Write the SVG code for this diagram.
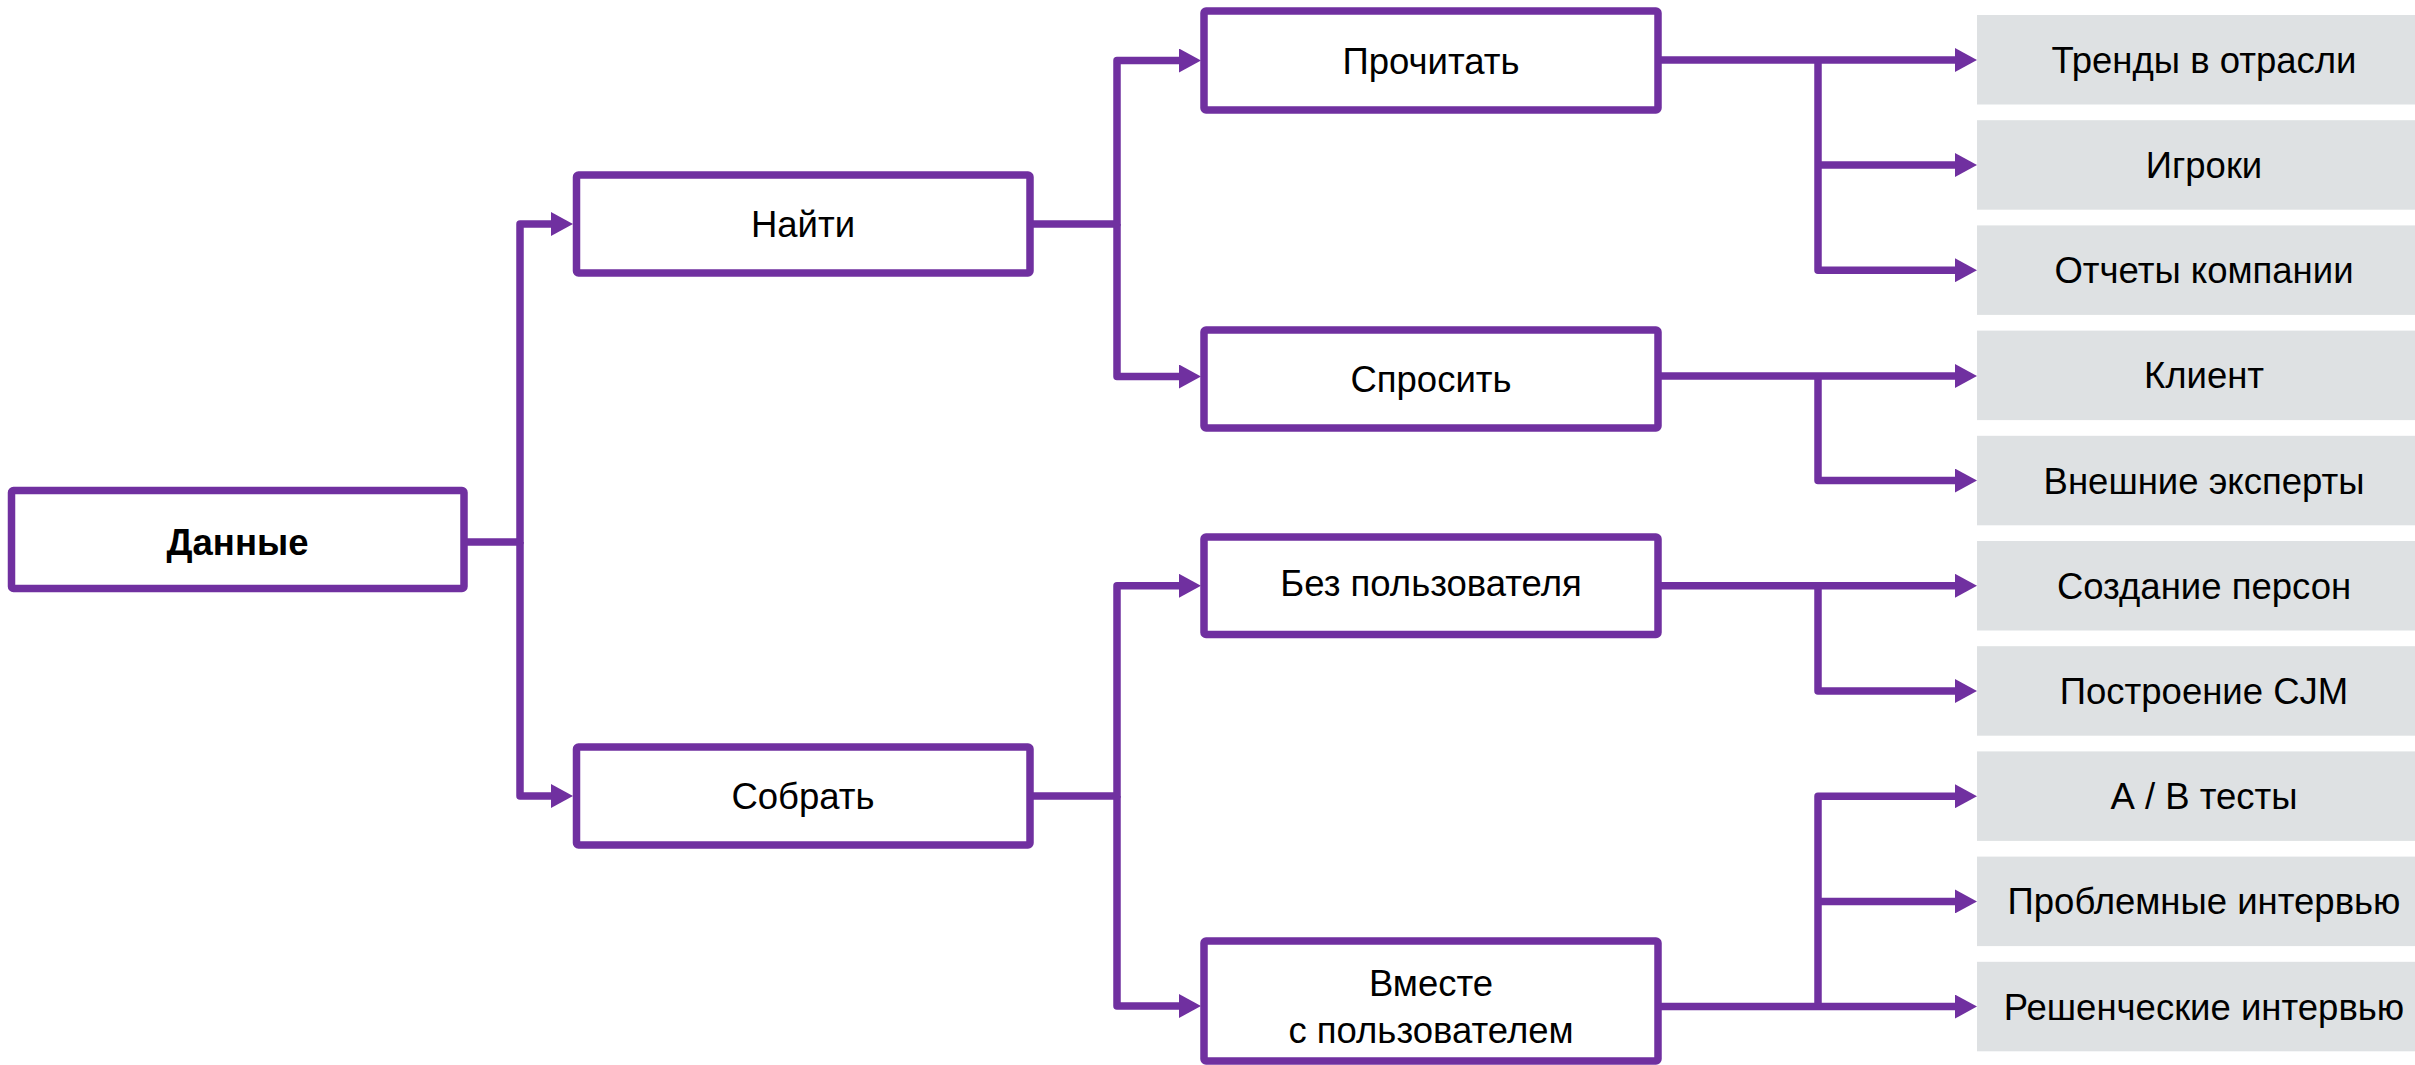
<svg xmlns="http://www.w3.org/2000/svg" width="2415" height="1065" viewBox="0 0 2415 1065">
<defs>
<style>
.box{fill:#ffffff;stroke:#7030A0;stroke-width:7.5;stroke-linejoin:round}
.leaf{fill:#DEE1E3}
.t{font-family:"Liberation Sans",Arial,sans-serif;font-size:36.5px;fill:#000;text-anchor:middle}
.b{font-weight:bold}
.c{fill:none;stroke:#7030A0;stroke-width:7.5;stroke-linejoin:round;marker-end:url(#ah)}
</style>
<marker id="ah" markerUnits="userSpaceOnUse" markerWidth="22" markerHeight="24" viewBox="0 0 22 24" refX="0" refY="12" orient="auto">
<path d="M0,0 L22,12 L0,24 z" fill="#7030A0"/>
</marker>
</defs>
<rect width="2415" height="1065" fill="#ffffff"/>
<g id="connectors">
<path class="c" d="M464,542 H520 V224 H551"/>
<path class="c" d="M520,542 V796 H551"/>
<path class="c" d="M1030,224 H1117 V60.5 H1179"/>
<path class="c" d="M1117,224 V376.5 H1179"/>
<path class="c" d="M1030,796 H1117 V585.8 H1179"/>
<path class="c" d="M1117,796 V1006 H1179"/>
<path class="c" d="M1658,60 H1955"/>
<path class="c" d="M1818,60 V270.2 H1955"/>
<path class="c" d="M1818,165 H1955"/>
<path class="c" d="M1658,376 H1955"/>
<path class="c" d="M1818,376 V480.6 H1955"/>
<path class="c" d="M1658,585.8 H1955"/>
<path class="c" d="M1818,585.8 V691 H1955"/>
<path class="c" d="M1658,1006.6 H1955"/>
<path class="c" d="M1818,1006.6 V796.2 H1955"/>
<path class="c" d="M1818,901.4 H1955"/>
</g>
<g id="n-dannye"><rect class="box" x="11.5" y="490.5" width="452.5" height="98" rx="2"/><text class="t b" x="237.5" y="555">Данные</text></g>
<g id="n-nayti"><rect class="box" x="576.5" y="175" width="453.5" height="98" rx="2"/><text class="t" x="803" y="237">Найти</text></g>
<g id="n-sobrat"><rect class="box" x="576.5" y="747" width="453.5" height="98" rx="2"/><text class="t" x="803" y="809">Собрать</text></g>
<g id="n-prochitat"><rect class="box" x="1204" y="11" width="454" height="99" rx="2"/><text class="t" x="1431" y="73.5">Прочитать</text></g>
<g id="n-sprosit"><rect class="box" x="1204" y="330" width="454" height="98" rx="2"/><text class="t" x="1431" y="391.5">Спросить</text></g>
<g id="n-bez"><rect class="box" x="1204" y="537" width="454" height="97.5" rx="2"/><text class="t" x="1431" y="595.5">Без пользователя</text></g>
<g id="n-vmeste"><rect class="box" x="1204" y="941" width="454" height="120" rx="2"/><text class="t" x="1431" y="995.5">Вместе</text><text class="t" x="1431" y="1042.5">с пользователем</text></g>
<g id="l-trendy"><rect class="leaf" x="1977" y="15" width="454" height="89.5"/><text class="t" x="2204" y="72.8">Тренды в отрасли</text></g>
<g id="l-igroki"><rect class="leaf" x="1977" y="120.2" width="454" height="89.5"/><text class="t" x="2204" y="178">Игроки</text></g>
<g id="l-otchety"><rect class="leaf" x="1977" y="225.4" width="454" height="89.5"/><text class="t" x="2204" y="283.2">Отчеты компании</text></g>
<g id="l-klient"><rect class="leaf" x="1977" y="330.6" width="454" height="89.5"/><text class="t" x="2204" y="388.4">Клиент</text></g>
<g id="l-eksperty"><rect class="leaf" x="1977" y="435.8" width="454" height="89.5"/><text class="t" x="2204" y="493.6">Внешние эксперты</text></g>
<g id="l-persony"><rect class="leaf" x="1977" y="541" width="454" height="89.5"/><text class="t" x="2204" y="598.8">Создание персон</text></g>
<g id="l-cjm"><rect class="leaf" x="1977" y="646.2" width="454" height="89.5"/><text class="t" x="2204" y="704">Построение CJM</text></g>
<g id="l-ab"><rect class="leaf" x="1977" y="751.4" width="454" height="89.5"/><text class="t" x="2204" y="809.2">А / В тесты</text></g>
<g id="l-problem"><rect class="leaf" x="1977" y="856.6" width="454" height="89.5"/><text class="t" x="2204" y="914.4">Проблемные интервью</text></g>
<g id="l-reshen"><rect class="leaf" x="1977" y="961.8" width="454" height="89.5"/><text class="t" x="2204" y="1019.6">Решенческие интервью</text></g>
</svg>
